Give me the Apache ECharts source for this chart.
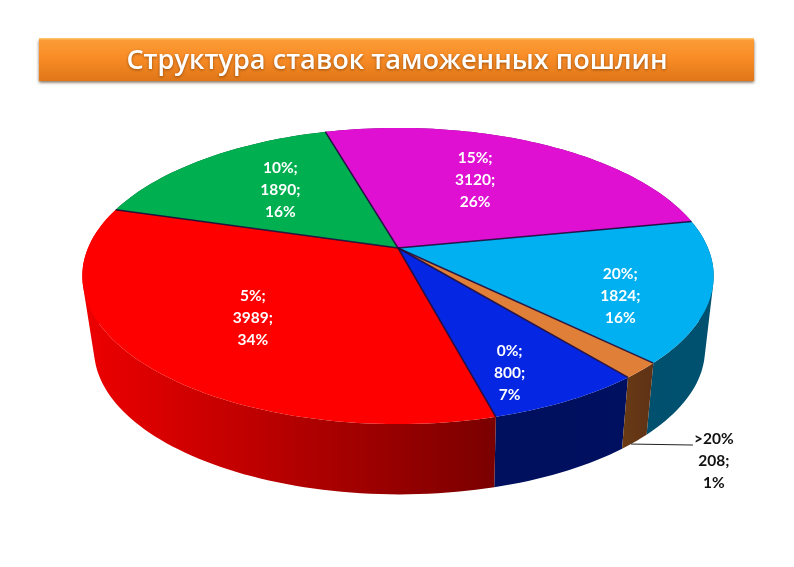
<!DOCTYPE html>
<html><head><meta charset="utf-8">
<style>html,body{margin:0;padding:0;background:#fff}#c{width:794px;height:567px}</style>
<script src="https://cdn.jsdelivr.net/npm/echarts@6/dist/echarts.min.js"></script>
</head><body><div id="c"></div>
<script>
const titleText = 'Структура ставок таможенных пошлин';
const categories = ['0%', '5%', '10%', '15%', '20%', '>20%'];
const values = [800, 3989, 1890, 3120, 1824, 208];
const shareLabels = [7, 34, 16, 26, 16, 1];

const topColors = ['#0526E2', '#FF0000', '#00B050', '#E010D2', '#00B0F0', '#E07F38'];
const sideColors = [['#00105e', '#001060'], ['#ee0000', '#7a0000'], ['#005030', '#005030'],
                    ['#700068', '#700068'], ['#00506e', '#005070'], ['#6a3a14', '#5e3216']];
// label placement: fraction of radius, angle shift from slice middle (degrees)
const labelPlace = [[0.81, 4.7], [0.62, -2], [0.60, 1.6], [0.59, -3.8], [0.745, 8.6], null];

const startAngle = 140.7;
const total = values.reduce((a, b) => a + b, 0);
const P = 0.189;
const topPlane = { ox: 398, oy: 248, a: 310, b: 142.8 };
const basePlane = { ox: 399.5, oy: 322, a: 300, b: 139.8 };
const labelFont = 'bold 15.5px Lato, "Open Sans", sans-serif';

function project(pl, deg, r) {
  const t = deg * Math.PI / 180, X = r * Math.sin(t), Y = -r * Math.cos(t), d = 1 - P * Y;
  return [pl.ox + pl.a * X / d, pl.oy + pl.b * Y / d];
}
function arc(pl, a0, a1) {
  const n = Math.max(2, Math.ceil((a1 - a0) / 1.5)), out = [];
  for (let i = 0; i <= n; i++) out.push(project(pl, a0 + (a1 - a0) * i / n, 1));
  return out;
}
// the wall of a slice as one path of same-winding quads, so that it fills out to the silhouette
function wallPath(topArc, baseArc) {
  let d = '';
  for (let s = 0; s + 1 < topArc.length; s++) {
    let q = [topArc[s], topArc[s + 1], baseArc[s + 1], baseArc[s]];
    let area = 0;
    q.forEach((p, k) => { const n = q[(k + 1) % 4]; area += p[0] * n[1] - n[0] * p[1]; });
    if (area < 0) q = q.slice().reverse();
    d += 'M' + q.map(p => p[0].toFixed(2) + ' ' + p[1].toFixed(2)).join('L') + 'Z';
  }
  return d;
}
function renderItem(params, api) {
  const i = params.dataIndex;
  let before = 0;
  for (let k = 0; k < i; k++) before += values[k];
  const a0 = startAngle + before / total * 360;
  const a1 = a0 + api.value(0) / total * 360;
  const mid = (a0 + a1) / 2;
  const topArc = arc(topPlane, a0, a1), baseArc = arc(basePlane, a0, a1);
  const centre = project(topPlane, 0, 0);
  const kids = [];
  kids.push({ type: 'path', z2: 1, shape: { pathData: wallPath(topArc, baseArc) },
    style: { fill: new echarts.graphic.LinearGradient(0, 0, 1, 0, [
      { offset: 0, color: sideColors[i][0] }, { offset: 1, color: sideColors[i][1] }]) } });
  kids.push({ type: 'polygon', z2: 2, shape: { points: [centre].concat(topArc) }, style: { fill: topColors[i] } });
  kids.push({ type: 'polyline', z2: 3, shape: { points: [centre, topArc[0]] },
    style: { stroke: 'rgba(30,10,60,0.9)', lineWidth: 1.5, fill: 'none' } });
  const cat = categories[i];
  if (labelPlace[i]) {
    const p = project(topPlane, mid + labelPlace[i][1], labelPlace[i][0]);
    kids.push({ type: 'text', z2: 4, style: { text: cat + ';\n' + values[i] + ';\n' + shareLabels[i] + '%',
      x: p[0], y: p[1], fill: '#fff', font: labelFont,
      align: 'center', verticalAlign: 'middle', lineHeight: 22 } });
  } else {
    const s = project(basePlane, mid + 1, 1), e = [s[0] + 62, s[1] + 1];
    kids.push({ type: 'polyline', z2: 3, shape: { points: [s, e] },
      style: { stroke: '#222', lineWidth: 1, fill: 'none' } });
    kids.push({ type: 'text', z2: 4, style: { text: cat + '\n' + values[i] + ';\n' + shareLabels[i] + '%',
      x: e[0] + 21, y: e[1] + 16, fill: '#111', font: labelFont,
      align: 'center', verticalAlign: 'middle', lineHeight: 22 } });
  }
  return { type: 'group', children: kids };
}
const chart = echarts.init(document.getElementById('c'), null, { renderer: 'canvas' });
chart.setOption({
  animation: false,
  backgroundColor: '#fff',
  title: { text: titleText, left: 'center', top: 43, itemGap: 0,
    textStyle: { color: '#fff', fontFamily: '"Open Sans", sans-serif', fontWeight: 600, fontSize: 27.2,
      textShadowColor: 'rgba(90,40,0,0.6)', textShadowBlur: 3, textShadowOffsetY: 1 } },
  graphic: [{ type: 'rect', z: -1, shape: { x: 39, y: 38, width: 715, height: 43 },
    style: { fill: new echarts.graphic.LinearGradient(0, 0, 0, 1, [
        { offset: 0, color: '#FFD078' }, { offset: 0.05, color: '#FB9C36' },
        { offset: 0.45, color: '#F98C26' }, { offset: 1, color: '#DF7618' }]),
      shadowColor: 'rgba(70,40,10,0.7)', shadowBlur: 3, shadowOffsetY: 1.5 } }],
  series: [{ type: 'custom', coordinateSystem: 'none', renderItem, data: values.map(v => [v]) }]
});
</script></body></html>
